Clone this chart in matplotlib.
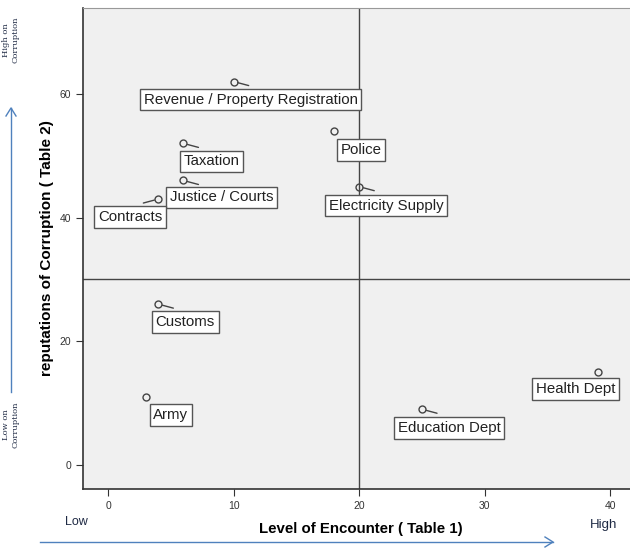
import matplotlib.pyplot as plt

plt.rcParams['font.family'] = ['Liberation Sans', 'DejaVu Sans']

# departments: level of encounter (x) vs reputation of corruption (y)
names = ["Revenue / Property Registration", "Taxation", "Justice / Courts", "Contracts",
         "Police", "Electricity Supply", "Customs", "Army", "Education Dept", "Health Dept"]
encounter = [10, 6, 6, 4, 18, 20, 4, 3, 25, 39]
reputation = [62, 52, 46, 43, 54, 45, 26, 11, 9, 15]

# label box offsets (pixels) and whether a short leader line is drawn
label_dx = [17, 28, 38, -28, 27, 27, 27, 25, 27, -22]
label_dy = [-18, -18, -17, -18, -19, -19, -18, -18, -19, -17]
leader = [1, 1, 1, -1, 0, 1, 1, 0, 1, 0]

fig = plt.figure(figsize=(6.3, 5.48), dpi=100)
ax = fig.add_axes([83 / 630, 59 / 548, 555 / 630, 481 / 548])
ax.set_facecolor('#f0f0f0')

ax.axvline(20, color='#444444', lw=1, zorder=1)
ax.axhline(30, color='#444444', lw=1, zorder=1)

ax.plot(encounter, reputation, 'o', ms=5, mfc='none', mec='#444444', mew=1, zorder=3)

for x, y, name, dx, dy, ld in zip(encounter, reputation, names, label_dx, label_dy, leader):
    if ld:
        ax.annotate('', xy=(x, y), xytext=(15 * ld, -4), textcoords='offset pixels',
                    arrowprops=dict(arrowstyle='-', color='#444444', lw=1, shrinkA=0, shrinkB=3))
    ax.annotate(name, xy=(x, y), xytext=(dx, dy), textcoords='offset pixels',
                ha='center', va='center', fontsize=10.8, color='#222222', zorder=4,
                bbox=dict(boxstyle='square,pad=0.25', fc='white', ec='#555555', lw=1))

ax.set_xlim(-2, 42.2)
ax.set_ylim(-3.9, 73.9)
ax.set_xticks([0, 10, 20, 30, 40])
ax.set_yticks([0, 20, 40, 60])
ax.tick_params(labelsize=7.5, length=5, color='#333333', labelcolor='#333333')
for s in ['left', 'bottom']:
    ax.spines[s].set_color('#333333')
    ax.spines[s].set_linewidth(1.2)
ax.spines['top'].set_color('#999999')
ax.spines['right'].set_visible(False)

ax.set_xlabel('Level of Encounter ( Table 1)', fontsize=10.8, fontweight='bold', labelpad=8)
ax.set_ylabel('reputations of Corruption ( Table 2)', fontsize=11, fontweight='bold', labelpad=4)

fig.text(65 / 630, 1 - 522 / 548, 'Low', fontsize=9, color='#1f2a44', ha='left', va='center')
fig.text(590 / 630, 1 - 525 / 548, 'High', fontsize=9.5, color='#1f2a44', ha='left', va='center')
fig.text(11 / 630, 1 - 40 / 548, 'High on\nCorruption', fontsize=6, rotation=90,
         ha='center', va='center', color='#1f2a44', family='DejaVu Serif')
fig.text(11 / 630, 1 - 425 / 548, 'Low on\nCorruption', fontsize=6, rotation=90,
         ha='center', va='center', color='#1f2a44', family='DejaVu Serif')

arrow_col = '#4f81bd'
fig.add_artist(plt.Line2D([11 / 630, 11 / 630], [1 - 392 / 548, 1 - 108 / 548],
                          color=arrow_col, lw=1))
fig.add_artist(plt.Line2D([6 / 630, 11 / 630, 16 / 630],
                          [1 - 116 / 548, 1 - 108 / 548, 1 - 116 / 548], color=arrow_col, lw=1))
fig.add_artist(plt.Line2D([40 / 630, 553 / 630], [1 - 542 / 548, 1 - 542 / 548],
                          color=arrow_col, lw=1))
fig.add_artist(plt.Line2D([545 / 630, 553 / 630, 545 / 630],
                          [1 - 537 / 548, 1 - 542 / 548, 1 - 547 / 548], color=arrow_col, lw=1))

fig.savefig('out.png', dpi=100)
